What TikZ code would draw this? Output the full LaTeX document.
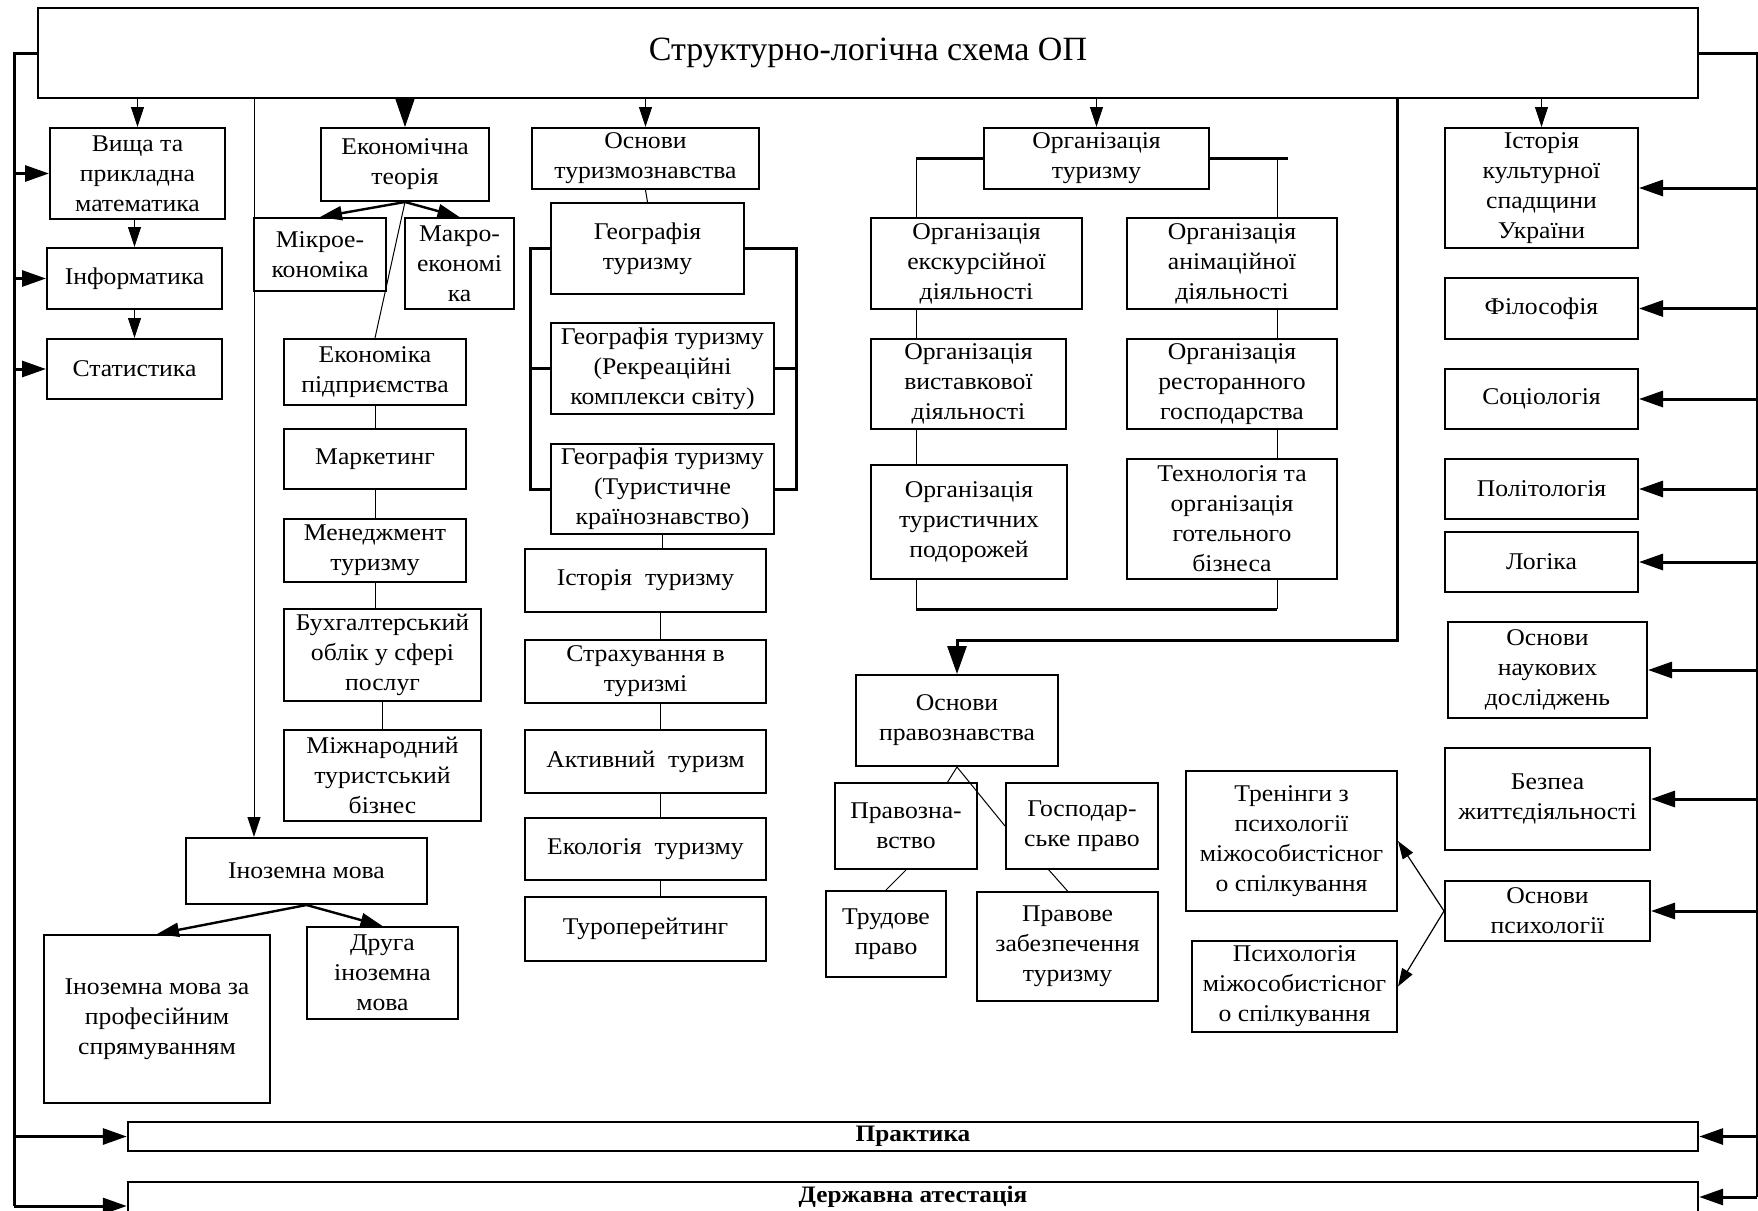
\documentclass[tikz,border=0pt]{standalone}
\usepackage{fontspec}
\setmainfont{Liberation Serif}[FakeStretch=1.07]
\newfontfamily\titlefont{Liberation Serif}
\usetikzlibrary{arrows.meta}
\newcommand\mybox[6]{%
  \node[box, minimum width={(#4-#2)*0.5pt}, minimum height={(#5-#3)*0.5pt}] (#1) at ({(#2+#4)/2},{(#3+#5)/2}) {#6};}
\begin{document}
\begin{tikzpicture}[x=0.5pt,y=-0.5pt,
  box/.style={draw, line width=1pt, align=center, inner sep=1pt, font=\fontsize{12}{15}\selectfont},
  thinl/.style={line width=0.5pt},
  bus/.style={line width=1.5pt},
  arr/.style={line width=0.5pt, -{Triangle[length=10pt,width=6.5pt]}},
  bigarr/.style={line width=0.5pt, -{Triangle[length=14pt,width=9.5pt]}},
  sidearr/.style={line width=1.5pt, -{Triangle[length=12pt,width=8pt]}},
  tharr/.style={line width=1.2pt, -{Triangle[length=11pt,width=7pt]}},
  darr/.style={line width=0.6pt, -{Triangle[length=9pt,width=6pt]}},
  barbox/.style={draw, line width=1.2pt, inner sep=0pt, font=\bfseries\fontsize{11.8}{13}\selectfont}
]
\useasboundingbox (0,0) rectangle (1758,1211);

% title
\node[draw, line width=1.2pt, minimum width=830pt, minimum height=45pt, inner sep=0pt,
      font=\titlefont\fontsize{17}{20}\selectfont] (title) at (868,53) {Структурно-логічна схема ОП};

% left column
\mybox{vm}{50}{128}{225}{219}{Вища та\\прикладна\\математика}
\mybox{inf}{47}{248}{222}{309}{Інформатика}
\mybox{stat}{47}{339}{222}{399}{Статистика}

% economics column
\mybox{et}{321}{128}{489}{201}{Економічна\\теорія}
\mybox{mikro}{254}{218}{386}{291}{Мікрое-\\кономіка}
\mybox{makro}{405}{218}{514}{309}{Макро-\\економі\\ка}
\mybox{ekp}{284}{339}{466}{405}{Економіка\\підприємства}
\mybox{mark}{284}{429}{466}{489}{Маркетинг}
\mybox{men}{284}{519}{466}{582}{Менеджмент\\туризму}
\mybox{buh}{284}{609}{481}{701}{Бухгалтерський\\облік у сфері\\послуг}
\mybox{mizh}{284}{730}{481}{821}{Міжнародний\\туристський\\бізнес}
\mybox{inoz}{186}{838}{427}{904}{Іноземна мова}
\mybox{inozp}{44}{935}{270}{1103}{Іноземна мова за\\професійним\\спрямуванням}
\mybox{druga}{307}{927}{458}{1019}{Друга\\іноземна\\мова}

% tourism column
\mybox{ot}{532}{128}{759}{189}{Основи\\туризмознавства}
\mybox{geo}{551}{203}{744}{294}{Географія\\туризму}
\mybox{geor}{551}{323}{774}{414}{Географія туризму\\(Рекреаційні\\комплекси світу)}
\mybox{geok}{551}{444}{774}{534}{Географія туризму\\(Туристичне\\країнознавство)}
\mybox{istt}{525}{549}{766}{612}{Історія\ \ туризму}
\mybox{strah}{525}{640}{766}{703}{Страхування в\\туризмі}
\mybox{aktiv}{525}{730}{766}{793}{Активний\ \ туризм}
\mybox{ekol}{525}{818}{766}{880}{Екологія\ \ туризму}
\mybox{turop}{525}{897}{766}{961}{Туроперейтинг}

% organisation column
\mybox{orgt}{984}{128}{1209}{189}{Організація\\туризму}
\mybox{oek}{871}{218}{1082}{309}{Організація\\екскурсійної\\діяльності}
\mybox{oan}{1127}{218}{1337}{309}{Організація\\анімаційної\\діяльності}
\mybox{ovy}{871}{339}{1066}{429}{Організація\\виставкової\\діяльності}
\mybox{ores}{1127}{339}{1337}{429}{Організація\\ресторанного\\господарства}
\mybox{otur}{871}{465}{1067}{579}{Організація\\туристичних\\подорожей}
\mybox{otech}{1127}{459}{1337}{579}{Технологія та\\організація\\готельного\\бізнеса}

% law
\mybox{opr}{856}{675}{1058}{766}{Основи\\правознавства}
\mybox{prav}{835}{783}{977}{869}{Правозна-\\вство}
\mybox{gosp}{1006}{783}{1158}{869}{Господар-\\ське право}
\mybox{trud}{826}{891}{946}{977}{Трудове\\право}
\mybox{pravz}{977}{892}{1158}{1001}{Правове\\забезпечення\\туризму}

% right column
\mybox{ist}{1445}{128}{1638}{248}{Історія\\культурної\\спадщини\\України}
\mybox{fil}{1445}{278}{1638}{339}{Філософія}
\mybox{soc}{1445}{369}{1638}{429}{Соціологія}
\mybox{pol}{1445}{459}{1638}{519}{Політологія}
\mybox{log}{1445}{532}{1638}{592}{Логіка}
\mybox{nauk}{1448}{622}{1647}{718}{Основи\\наукових\\досліджень}
\mybox{bezp}{1445}{748}{1650}{850}{Безпеа\\життєдіяльності}
\mybox{psy}{1445}{881}{1650}{941}{Основи\\психології}
\mybox{tren}{1186}{771}{1397}{911}{Тренінги з\\психології\\міжособистісног\\о спілкування}
\mybox{psyh}{1192}{941}{1397}{1032}{Психологія\\міжособистісног\\о спілкування}

% bottom bars
\node[barbox, minimum width=785pt, minimum height=14.5pt] (prakt) at (913,1136.5) {Практика};
\node[barbox, minimum width=785pt, minimum height=15pt] (derzh) at (913,1197) {Державна атестація};

% buses
\coordinate (L) at (14,52);
\coordinate (Lend) at (14,1206);
\coordinate (R) at (1757,52);
\draw[bus] (title.west) -- (L |- title.west) -- (Lend);
\draw[bus] (title.east) -- (R |- title.east) -- (R |- derzh.east);
\foreach \n in {vm,inf,stat,prakt} \draw[sidearr] (L |- \n.west) -- (\n.west);
\draw[sidearr] (Lend) -- (derzh.west |- Lend);
\foreach \n in {ist,fil,soc,pol,log,nauk,bezp,psy,prakt,derzh} \draw[sidearr] (R |- \n.east) -- (\n.east);

% arrows from title
\draw[arr] (vm.north |- title.south) -- (vm.north);
\draw[arr] (inf.north |- vm.south) -- (inf.north);
\draw[arr] (inf.south) -- (stat.north);
\draw[bigarr] (et.north |- title.south) -- (et.north);
\draw[arr] (ot.north |- title.south) -- (ot.north);
\draw[arr] (orgt.north |- title.south) -- (orgt.north);
\draw[arr] (ist.north |- title.south) -- (ist.north);
\coordinate (ic) at (254,0);
\draw[arr] (ic |- title.south) -- (ic |- inoz.north);

% economics links
\draw[tharr] (et.south) -- (mikro.north);
\draw[tharr] (et.south) -- (makro.north);
\draw[thinl] (et.south) -- (ekp.north);
\coordinate (ec) at (375,0);
\draw[thinl] (ekp.south -| ec) -- (mark.north -| ec);
\draw[thinl] (mark.south -| ec) -- (men.north -| ec);
\draw[thinl] (men.south -| ec) -- (buh.north -| ec);
\draw[thinl] (buh.south) -- (mizh.north);
\draw[tharr] (inoz.south) -- (inozp.north);
\draw[tharr] (inoz.south) -- (druga.north);

% tourism links
\draw[thinl] (ot.south) -- (geo.north);
\coordinate (gl) at (530,0);
\coordinate (gr) at (796,0);
\draw[bus] (geo.west) -- (geo.west -| gl) -- (geok.west -| gl) -- (geok.west);
\draw[bus] (geor.west) -- (geor.west -| gl);
\draw[bus] (geo.east) -- (geo.east -| gr) -- (geok.east -| gr) -- (geok.east);
\draw[bus] (geor.east) -- (geor.east -| gr);
\draw[thinl] (geok.south) -- (geok.south |- istt.north);
\coordinate (tc) at (660,0);
\draw[thinl] (istt.south -| tc) -- (strah.north -| tc);
\draw[thinl] (strah.south -| tc) -- (aktiv.north -| tc);
\draw[thinl] (aktiv.south -| tc) -- (ekol.north -| tc);
\draw[thinl] (ekol.south -| tc) -- (turop.north -| tc);

% organisation bracket
\coordinate (ol) at (916,158);
\coordinate (orr) at (1288,158);
\coordinate (oR) at (1277,158);
\coordinate (ob) at (916,609);
\draw[bus] (ol) -- (orgt.west |- ol);
\draw[bus] (orgt.east |- orr) -- (orr);
\draw[thinl] (ol) -- (ol |- oek.north);
\draw[thinl] (oek.south -| ol) -- (ovy.north -| ol);
\draw[thinl] (ovy.south -| ol) -- (otur.north -| ol);
\draw[thinl] (otur.south -| ol) -- (ob);
\draw[bus] (ob) -- (ob -| oR);
\draw[thinl] (oR) -- (oR |- oan.north);
\draw[thinl] (oan.south -| oR) -- (ores.north -| oR);
\draw[thinl] (ores.south -| oR) -- (otech.north -| oR);
\draw[thinl] (otech.south -| oR) -- (ob -| oR);

% law links
\coordinate (pk) at (1397,640);
\draw[line width=1.5pt, -{Triangle[length=14pt,width=9.5pt]}] (pk |- title.south) -- (pk) -| (opr.north);
\coordinate (pl) at (947,783);
\coordinate (gb) at (1048,869);
\draw[thinl] (opr.south) -- (pl);
\draw[thinl] (opr.south) -- (gosp.west);
\draw[thinl] (prav.south) -- (trud.north);
\draw[thinl] (gb) -- (pravz.north);

% psychology
\draw[darr] (psy.west) -- (tren.east);
\draw[darr] (psy.west) -- (psyh.east);
\end{tikzpicture}
\end{document}
